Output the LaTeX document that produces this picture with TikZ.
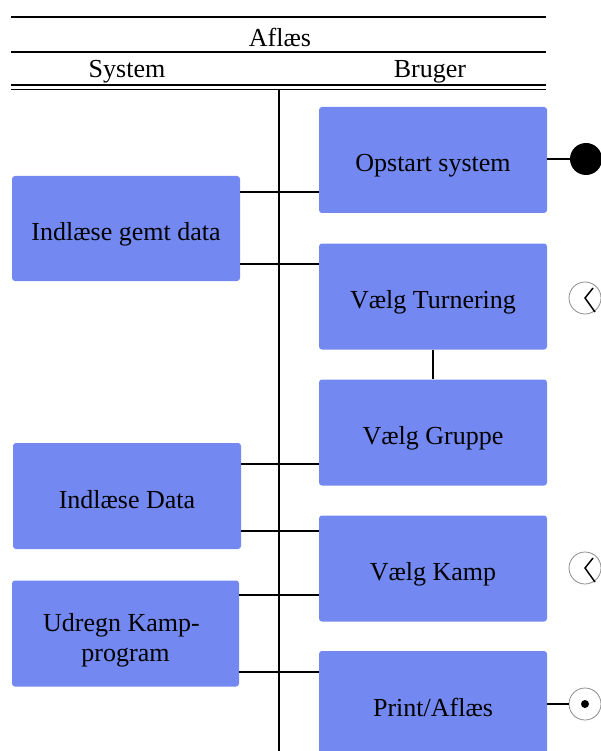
\documentclass[tikz,border=0pt]{standalone}
\usepackage{fontspec}
\setmainfont{Liberation Serif}
\definecolor{boxblue}{RGB}{115,136,240}
\definecolor{clockgray}{RGB}{140,140,140}
\begin{document}
\begin{tikzpicture}[x=1pt,y=-1pt,
  actbox/.style={fill=boxblue,draw=none,rounded corners=3pt,minimum width=228pt,minimum height=106pt,align=center,inner sep=0pt,font=\fontsize{26}{30}\selectfont,text height=28pt,text depth=4pt},
  hdr/.style={font=\fontsize{26}{30}\selectfont,inner sep=0pt,anchor=base},
  conn/.style={line width=2pt},
  clock/.style={circle,draw=clockgray,line width=0.8pt,minimum size=32pt,inner sep=0pt},
  hand/.style={line width=1.5pt,line join=miter}]
\clip (0,0) rectangle (601,751);
% header
\draw[line width=2pt] (11,17) -- (546,17);
\draw[line width=2pt] (11,52.5) -- (546,52.5);
\draw[line width=1.6pt] (11,85) -- (546,85);
\draw[line width=1.6pt] (11,89.5) -- (546,89.5);
\node[hdr] (title) at (280,46.5) {Aflæs};
\node[hdr] (system) at (127,78) {System};
\node[hdr] (bruger) at (430,78) {Bruger};
% lane divider
\coordinate (laneTop) at (279,90);
\coordinate (laneBot) at (279,751);
\draw[line width=2pt] (laneTop) -- (laneBot);
% right boxes
\node[actbox] (opstart) at (433,160) {Opstart system};
\node[actbox] (turnering) at (433,296.5) {Vælg Turnering};
\node[actbox] (gruppe) at (433,432.5) {Vælg Gruppe};
\node[actbox] (kamp) at (433,568.5) {Vælg Kamp};
\node[actbox] (print) at (433,704) {Print/Aflæs};
% left boxes
\node[actbox,minimum height=105pt] (gemt) at (126,228.5) {Indlæse gemt data};
\node[actbox] (data) at (127,496) {Indlæse Data};
\node[actbox,minimum width=227pt,text height=28pt,text depth=33pt] (udregn) at (125.5,633.5)
  {\begin{tabular}[t]{@{}c@{}}Udregn Kamp-\hspace*{8pt}\\program\end{tabular}};
% connectors
\draw[conn] (gemt.east |- 0,192) -- (opstart.west |- 0,192);
\draw[conn] (gemt.east |- 0,264) -- (turnering.west |- 0,264);
\draw[conn] (data.east |- 0,464) -- (gruppe.west |- 0,464);
\draw[conn] (data.east |- 0,531) -- (kamp.west |- 0,531);
\draw[conn] (udregn.east |- 0,595) -- (kamp.west |- 0,595);
\draw[conn] (udregn.east |- 0,672) -- (print.west |- 0,672);
\draw[conn] (turnering.south) -- (gruppe.north);
% start / clocks / end
\node[circle,fill=black,minimum size=32pt,inner sep=0pt] (start) at (586,159) {};
\draw[line width=2.5pt] (opstart.east |- start) -- (start.west);
\node[clock] (clockA) at (585,298) {};
\draw[hand] ([shift={(8,-10)}]clockA.center) -- (clockA.center) -- ([shift={(10,14)}]clockA.center);
\node[clock] (clockB) at (585,568) {};
\draw[hand] ([shift={(8,-10)}]clockB.center) -- (clockB.center) -- ([shift={(10,14)}]clockB.center);
\node[clock] (finish) at (585,704) {};
\node[circle,fill=black,minimum size=8pt,inner sep=0pt] (finishdot) at (finish.center) {};
\draw[line width=2.5pt] (print.east |- finish) -- (finish.west);
\end{tikzpicture}
\end{document}
